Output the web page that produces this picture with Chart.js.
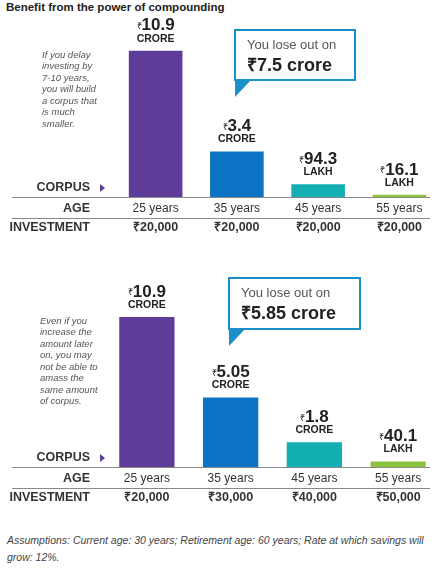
<!DOCTYPE html><html><head><meta charset="utf-8">
<script src="https://cdn.jsdelivr.net/npm/chart.js"></script>
<style>
body{margin:0;background:#fff;width:440px;height:572px;position:relative;font-family:"Liberation Sans",Arial,sans-serif;}
#title{position:absolute;left:6px;top:1px;font-size:11.5px;font-weight:bold;color:#222;}
.c{position:absolute;left:0;}
#foot{position:absolute;left:7px;top:532px;font-size:10.5px;font-style:italic;color:#444;line-height:17px;width:430px;}
</style></head><body>
<div id="title">Benefit from the power of compounding</div>
<canvas id="c1" class="c" style="top:0" width="440" height="250"></canvas>
<canvas id="c2" class="c" style="top:270px" width="440" height="250"></canvas>
<div id="foot">Assumptions: Current age: 30 years; Retirement age: 60 years; Rate at which savings will grow: 12%.</div>
<script>
const ages = ["25 years","35 years","45 years","55 years"];
const corpus1 = [10.9, 3.4, 0.943, 0.161]; // crore
const corpus2 = [10.9, 5.05, 1.8, 0.401];
const labels1 = [["10.9","CRORE"],["3.4","CRORE"],["94.3","LAKH"],["16.1","LAKH"]];
const labels2 = [["10.9","CRORE"],["5.05","CRORE"],["1.8","CRORE"],["40.1","LAKH"]];
const invest1 = ["₹20,000","₹20,000","₹20,000","₹20,000"];
const invest2 = ["₹20,000","₹30,000","₹40,000","₹50,000"];
const colors = ["#5e3c99","#0b74c4","#14afb3","#8cc43f"];
const note1 = ["If you delay","investing by","7-10 years,","you will build","a corpus that","is much","smaller."];
const note2 = ["Even if you","increase the","amount later","on, you may","not be able to","amass the","same amount","of corpus."];
const NF = '"Liberation Sans Narrow","Liberation Sans",Arial,sans-serif';

function make(id, data, vlabels, invest, note, noteX, noteY, padL, padT, callout){
  const deco = {id:'deco', afterDraw(ch){
    const c=ch.ctx, xs=ch.scales.x, ys=ch.scales.y, base=ys.getPixelForValue(0);
    c.save();
    data.forEach((v,i)=>{
      const x=xs.getPixelForValue(i), top=ys.getPixelForValue(v);
      c.fillStyle='#222'; c.textBaseline='middle';
      c.font='bold 17px '+NF; const w=c.measureText(vlabels[i][0]).width;
      c.font='9px Arial'; const rw=c.measureText('₹').width;
      const sx=x-(w+rw)/2;
      c.textAlign='left'; c.fillText('₹',sx,top-24);
      c.font='bold 17px '+NF; c.fillText(vlabels[i][0],sx+rw,top-25);
      c.textAlign='center'; c.font='bold 10.5px '+NF; c.fillText(vlabels[i][1],x,top-12);
    });
    c.strokeStyle='#888'; c.lineWidth=1;
    c.beginPath(); c.moveTo(12,base+0.5); c.lineTo(430,base+0.5); c.moveTo(12,base+21.5); c.lineTo(430,base+21.5); c.stroke();
    ages.forEach((a,i)=>{const x=xs.getPixelForValue(i);
      c.textAlign='center'; c.fillStyle='#333'; c.font='12px '+NF; c.fillText(a,x,base+12);
      c.font='bold 12.5px '+NF; c.fillText(invest[i],x,base+31);});
    c.textAlign='right'; c.font='bold 12.5px '+NF; c.fillStyle='#333';
    c.fillText('CORPUS',90,base-9); c.fillText('AGE',90,base+12); c.fillText('INVESTMENT',90,base+31);
    c.fillStyle='#5e3c99'; c.beginPath(); c.moveTo(100,base-13); c.lineTo(105,base-9); c.lineTo(100,base-5); c.fill();
    c.textAlign='left'; c.fillStyle='#555'; c.font='italic 9.5px '+NF;
    note.forEach((t,k)=>c.fillText(t,noteX,noteY+k*11.5));
    const b=callout;
    c.fillStyle='#fff'; c.fillRect(b.x,b.y,b.w,b.h);
    c.strokeStyle='#1a8fc9'; c.lineWidth=2; c.strokeRect(b.x,b.y,b.w,b.h);
    c.fillStyle='#1a8fc9'; c.beginPath(); c.moveTo(b.x,b.y+b.h); c.lineTo(b.x+16,b.y+b.h); c.lineTo(b.x,b.y+b.h+17); c.fill();
    c.fillStyle='#555'; c.font='13px '+NF; c.fillText('You lose out on',b.x+12,b.y+15);
    c.fillStyle='#222'; c.font='bold 18px '+NF; c.fillText(b.t,b.x+12,b.y+36);
    c.restore();
  }};
  new Chart(document.getElementById(id),{type:'bar',
    data:{labels:ages,datasets:[{data:data,backgroundColor:colors,barPercentage:0.66,categoryPercentage:1}]},
    options:{responsive:false,animation:false,events:[],
      layout:{padding:{left:padL,right:0,top:padT,bottom:53}},
      plugins:{legend:{display:false},tooltip:{enabled:false}},
      scales:{x:{display:false},y:{display:false,min:0,max:11.7}}},
    plugins:[deco]});
}
make('c1',corpus1,labels1,invest1,note1,42,55,115,40,{x:235,y:30,w:120,h:50,t:'₹7.5 crore'});
make('c2',corpus2,labels2,invest2,note2,40,51,105,36,{x:229,y:8,w:131,h:51,t:'₹5.85 crore'});
</script></body></html>
